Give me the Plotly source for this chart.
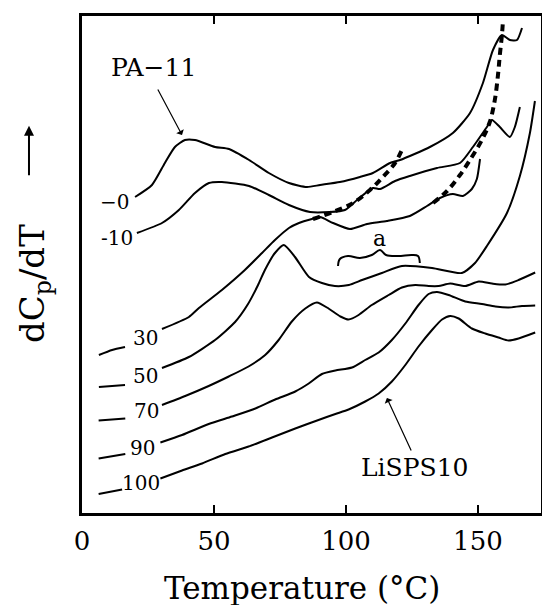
import plotly.graph_objects as go

# ---- data (temperature in °C, dCp/dT in arbitrary offset units) ----
x_m0 = [20.1, 26.5, 31.4, 35.2, 39.0, 42.8, 50.4, 55.7, 63.3, 70.8, 78.4, 85.2, 90.2, 97.7, 105.3,
        110.2, 116.7, 120.5, 131.8, 140.5, 147.0, 151.9, 155.7, 159.1, 162.1, 164.8, 166.7]
y_m0 = [63.2, 65.6, 70.0, 73.2, 74.6, 74.6, 73.2, 72.8, 70.6, 68.0, 66.0, 65.2, 65.6, 66.2, 67.2,
        68.0, 70.0, 70.6, 73.2, 76.0, 80.0, 86.0, 92.6, 95.6, 94.6, 94.6, 97.0]

x_m10 = [20.8, 30.3, 36.7, 42.8, 48.1, 53.0, 63.3, 70.8, 78.4, 86.4, 93.9, 99.6, 104.2, 110.2, 112.9,
         118.6, 124.2, 134.5, 143.2, 148.1, 153.4, 155.3, 158.3, 162.1, 164.0, 165.9]
y_m10 = [56.0, 58.0, 60.6, 64.0, 66.0, 66.2, 65.4, 63.6, 61.6, 60.2, 60.2, 60.6, 62.6, 65.0, 64.8,
         66.4, 67.4, 69.0, 70.0, 73.2, 77.2, 78.6, 77.2, 75.2, 77.2, 81.2]

x_30 = [6.4, 11.4, 16.3, None, 30.3, 40.5, 44.3, 53.0, 61.7, 68.2, 73.1, 78.4, 82.2, 87.1, 90.2, 95.1,
        101.5, 108.0, 115.5, 124.2, 130.7, 135.6, 140.5, 144.3, 147.7, 149.6, 150.8]
y_30 = [31.6, 32.6, 33.2, None, 36.8, 39.2, 41.0, 44.6, 48.6, 52.0, 54.6, 57.0, 58.0, 58.8, 59.2, 58.0,
        56.8, 57.8, 58.4, 59.4, 61.4, 63.0, 63.8, 63.4, 64.8, 66.8, 70.8]

x_50 = [6.4, 11.4, 16.3, None, 30.3, 40.5, 50.4, 58.0, 62.9, 66.7, 69.3, 73.1, 76.5, 80.7, 86.0, 90.9,
        95.8, 101.1, 106.1, 113.6, 121.2, 132.6, 143.9, 148.9, 153.4, 161.0, 165.9, 169.7, 171.6]
y_50 = [25.2, 25.4, 25.6, None, 29.0, 31.2, 34.6, 38.2, 41.8, 45.6, 48.6, 52.0, 53.6, 51.2, 47.2, 46.0,
        45.4, 45.6, 46.6, 48.0, 49.4, 49.0, 48.0, 50.0, 53.4, 60.0, 67.4, 76.0, 82.4]

x_70 = [6.3, 16.4, None, 30.3, 39.1, 48.0, 55.6, 63.1, 69.4, 74.5, 79.5, 84.6, 89.0, 93.4, 97.9, 101.0,
        104.8, 109.8, 116.2, 121.2, 126.3, 131.3, 135.1, 139.5, 145.2, 150.3, 155.3, 160.4, 165.4, 171.7]
y_70 = [18.5, 18.9, None, 21.6, 23.4, 25.4, 27.3, 29.3, 31.6, 34.6, 38.3, 40.9, 42.1, 40.9, 39.3, 38.7,
        39.6, 41.6, 43.6, 45.1, 45.6, 45.4, 45.4, 45.9, 45.4, 46.3, 45.9, 45.7, 46.6, 48.1]

x_90 = [6.3, 16.4, None, 29.7, 37.9, 48.0, 56.8, 65.7, 73.2, 80.8, 85.9, 90.9, 96.0, 102.3, 107.3, 112.4,
        117.4, 122.5, 127.5, 131.3, 134.5, 138.9, 145.2, 151.5, 156.6, 161.6, 166.7, 171.7]
y_90 = [10.9, 11.8, None, 14.1, 15.6, 17.8, 19.3, 20.9, 22.7, 24.3, 25.9, 27.8, 28.5, 29.1, 30.6, 32.1,
        34.6, 37.9, 41.6, 43.8, 44.2, 43.6, 42.3, 41.8, 41.3, 41.1, 41.4, 41.5]

x_100 = [6.3, 15.2, None, 29.7, 37.9, 45.5, 54.3, 63.1, 72.0, 80.8, 89.6, 96.0, 101.0, 107.3, 112.4,
         117.4, 122.5, 127.5, 132.6, 136.4, 139.5, 142.7, 147.7, 152.8, 157.8, 161.6, 165.4, 171.7]
y_100 = [3.8, 4.7, None, 6.9, 8.5, 9.9, 11.8, 13.3, 15.1, 16.9, 18.6, 19.8, 20.7, 22.3, 23.9,
         26.3, 29.6, 33.3, 36.6, 38.7, 39.4, 38.9, 36.9, 35.9, 35.1, 34.5, 34.9, 36.1]

# dashed guide lines
x_dash1 = [87.5, 95.1, 102.7, 109.1, 114.0, 118.6, 121.2]
y_dash1 = [58.8, 60.2, 62.0, 64.6, 67.2, 70.0, 72.6]
x_dash2 = [133.0, 138.3, 143.2, 147.7, 151.5, 154.5, 156.4, 157.6, 158.3, 159.1, 159.5]
y_dash2 = [62.0, 64.4, 67.6, 71.2, 74.6, 78.2, 82.6, 87.6, 91.6, 95.6, 98.6]

# curly brace "a"
x_brace = [97.0, 97.7, 100.8, 105.3, 109.8, 112.9, 115.2, 119.7, 125.0, 127.3, 128.0]
y_brace = [49.4, 50.8, 51.4, 51.0, 51.6, 52.6, 51.6, 51.4, 51.6, 51.4, 50.0]

# curve labels
label_text = ["\u22120", "-10", "30", "50", "70", "90", "100"]
label_x = [12.5, 13.3, 24.2, 24.2, 24.6, 23.1, 22.3]
label_y = [62.2, 55.0, 35.0, 27.4, 20.4, 13.0, 6.0]

x_ticks = [0, 50, 100, 150]

SERIF = "DejaVu Serif"

fig = go.Figure()

for xs, ys in [(x_m0, y_m0), (x_m10, y_m10), (x_30, y_30), (x_50, y_50),
               (x_70, y_70), (x_90, y_90), (x_100, y_100)]:
    fig.add_trace(go.Scatter(x=xs, y=ys, mode="lines",
                             line=dict(color="black", width=2, shape="spline", smoothing=0.6),
                             connectgaps=False, showlegend=False, hoverinfo="skip"))

for xs, ys in [(x_dash1, y_dash1), (x_dash2, y_dash2)]:
    fig.add_trace(go.Scatter(x=xs, y=ys, mode="lines",
                             line=dict(color="black", width=4, dash="7px,5px", shape="spline"),
                             showlegend=False, hoverinfo="skip"))

fig.add_trace(go.Scatter(x=x_brace, y=y_brace, mode="lines",
                         line=dict(color="black", width=2, shape="spline"),
                         showlegend=False, hoverinfo="skip"))

annotations = []
for t, lx, ly in zip(label_text, label_x, label_y):
    annotations.append(dict(x=lx, y=ly, xref="x", yref="y", text=t, showarrow=False,
                            xanchor="center", yanchor="middle",
                            font=dict(family=SERIF, size=20, color="black")))

annotations.append(dict(x=112.9, y=55.0, xref="x", yref="y", text="a", showarrow=False,
                        xanchor="center", yanchor="middle",
                        font=dict(family=SERIF, size=22, color="black")))

# PA-11 label with arrow
annotations.append(dict(x=37.9, y=75.6, xref="x", yref="y", text="", showarrow=True,
                        ax=-25, ay=-47, arrowhead=1, arrowsize=1.2, arrowwidth=1.2,
                        arrowcolor="black"))
annotations.append(dict(x=26.9, y=89.2, xref="x", yref="y", text="PA\u221211", showarrow=False,
                        xanchor="center", yanchor="middle",
                        font=dict(family=SERIF, size=25, color="black")))

# LiSPS10 label with arrow
annotations.append(dict(x=115.5, y=23.0, xref="x", yref="y", text="", showarrow=True,
                        ax=25, ay=54, arrowhead=1, arrowsize=1.2, arrowwidth=1.2,
                        arrowcolor="black"))
annotations.append(dict(x=126.1, y=9.2, xref="x", yref="y", text="LiSPS10", showarrow=False,
                        xanchor="center", yanchor="middle",
                        font=dict(family=SERIF, size=25, color="black")))

# y-axis title with upward arrow
annotations.append(dict(x=-0.103, y=0.462, xref="paper", yref="paper",
                        text="dC<sub>p</sub>/dT", textangle=-90, showarrow=False,
                        xanchor="center", yanchor="middle",
                        font=dict(family=SERIF, size=34, color="black")))
annotations.append(dict(x=-0.1155, y=0.779, xref="paper", yref="paper", text="",
                        showarrow=True, ax=0, ay=51, arrowhead=2, arrowsize=1,
                        arrowwidth=2, arrowcolor="black"))

# x-axis title
annotations.append(dict(x=0.48, y=-0.151, xref="paper", yref="paper",
                        text="Temperature (°C)", showarrow=False,
                        xanchor="center", yanchor="middle",
                        font=dict(family=SERIF, size=31, color="black")))

fig.update_layout(
    width=542, height=605,
    margin=dict(l=82, r=1, t=16, b=92, autoexpand=False),
    paper_bgcolor="white", plot_bgcolor="white",
    showlegend=False,
    annotations=annotations,
    xaxis=dict(range=[0, 173.9], tickvals=x_ticks, ticktext=[str(v) for v in x_ticks],
               ticks="inside", ticklen=8, tickwidth=2, tickcolor="black",
               showline=True, linewidth=3, linecolor="black", mirror="ticks",
               showgrid=False, zeroline=False, automargin=False,
               tickfont=dict(family=SERIF, size=26, color="black"),
               ticklabelstandoff=3),
    yaxis=dict(range=[0, 99.4], showticklabels=False, ticks="",
               showline=True, linewidth=3, linecolor="black", mirror=True,
               showgrid=False, zeroline=False, automargin=False),
)

fig.write_html("out.html", config={"displayModeBar": False},
               post_script="document.body.style.margin='0px';document.body.style.overflow='hidden';")
